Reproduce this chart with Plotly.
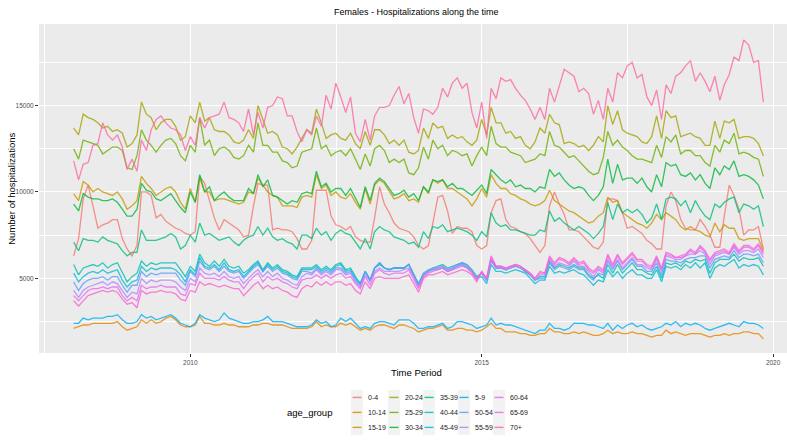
import pandas as pd
import plotly.graph_objects as go

# Monthly periods, Jan 2008 - Nov 2019
months = pd.date_range("2008-01-01", periods=143, freq="MS")

age_groups = ["0-4", "10-14", "15-19", "20-24", "25-29", "30-34", "35-39", "40-44",
              "45-49", "5-9", "50-54", "55-59", "60-64", "65-69", "70+"]

# ggplot2 default hue palette for 15 levels
colors = ["#F8766D", "#E58700", "#C99800", "#A3A500", "#6BB100", "#00BA38", "#00BF7D",
          "#00C0AF", "#00BCD8", "#00B0F6", "#619CFF", "#B983FF", "#E76BF3", "#FD61D1", "#FF67A4"]

# Female hospitalizations per month, in hundreds
h_0_4 = [63, 73, 96, 104, 92, 79, 81, 82, 84, 84, 73, 67, 63, 69, 100, 100, 98, 85, 87, 83, 81, 79, 78, 76, 75,
         77, 109, 105, 95, 85, 78, 84, 82, 80, 78, 74, 75, 92, 105, 104, 104, 78, 79, 78, 78, 77, 73, 67,
         67, 72, 101, 101, 101, 86, 81, 80, 78, 80, 74, 72, 71, 71, 85, 103, 93, 88, 82, 79, 78, 77, 74, 69,
         67, 69, 82, 97, 98, 89, 76, 80, 79, 79, 77, 69, 67, 69, 88, 95, 96, 84, 80, 79, 77, 76, 73, 69,
         65, 69, 92, 100, 93, 87, 78, 78, 77, 74, 71, 68, 67, 71, 96, 96, 95, 88, 79, 80, 78, 76, 72,
         70, 67, 67, 92, 100, 95, 84, 79, 78, 78, 84, 80, 75, 68, 68, 86, 104, 98, 90, 75, 78, 78, 80, 67]
h_10_14 = [21, 22, 23, 23, 24, 24, 24, 24, 24, 25, 22, 20, 21, 22, 26, 24, 26, 24, 25, 27, 28, 26, 23, 22, 22,
           23, 28, 24, 24, 23, 23, 24, 23, 23, 22, 22, 22, 23, 23, 24, 24, 23, 23, 23, 22, 21, 21, 21,
           21, 22, 25, 22, 23, 22, 22, 24, 23, 24, 22, 20, 21, 20, 22, 23, 23, 22, 21, 23, 23, 22, 21, 19,
           20, 21, 21, 22, 23, 20, 20, 21, 21, 20, 20, 19, 20, 22, 24, 21, 21, 19, 19, 19, 18, 18, 17, 17,
           18, 18, 21, 19, 19, 18, 18, 19, 18, 19, 18, 17, 17, 18, 20, 18, 19, 18, 18, 19, 18, 18, 17,
           16, 17, 17, 20, 18, 19, 18, 17, 18, 18, 18, 17, 16, 17, 17, 18, 17, 18, 18, 19, 19, 18, 18, 15]
h_15_19 = [99, 95, 106, 104, 100, 102, 100, 99, 98, 100, 96, 90, 92, 95, 109, 105, 102, 98, 100, 102, 103, 100, 94, 90, 102,
           94, 108, 100, 100, 95, 96, 96, 95, 94, 93, 94, 100, 99, 108, 104, 100, 98, 97, 92, 92, 92, 91, 97,
           98, 97, 110, 102, 104, 98, 100, 97, 96, 99, 94, 90, 102, 93, 104, 107, 105, 100, 96, 97, 99, 95, 96, 94,
           103, 99, 107, 105, 107, 102, 102, 100, 98, 96, 92, 96, 102, 97, 110, 105, 102, 102, 99, 98, 96, 95, 93, 92,
           93, 95, 101, 95, 93, 91, 89, 88, 86, 84, 82, 83, 86, 88, 97, 94, 95, 88, 86, 84, 82, 81, 79,
           82, 87, 84, 88, 86, 84, 80, 78, 80, 78, 77, 75, 74, 82, 77, 81, 79, 79, 73, 72, 73, 73, 73, 66]
h_20_24 = [137, 133, 145, 143, 142, 140, 137, 138, 135, 136, 134, 126, 128, 133, 152, 145, 143, 136, 140, 142, 142, 138, 130, 132, 144,
           140, 152, 141, 143, 136, 135, 135, 133, 129, 128, 130, 136, 131, 150, 142, 134, 135, 133, 126, 125, 122, 126, 131,
           136, 134, 148, 140, 131, 133, 134, 131, 130, 134, 128, 125, 135, 127, 136, 136, 133, 128, 130, 127, 130, 123, 122, 124,
           137, 131, 140, 137, 138, 131, 133, 131, 132, 129, 127, 130, 142, 133, 149, 140, 140, 134, 135, 131, 132, 127, 125, 129,
           137, 134, 145, 140, 139, 128, 129, 128, 126, 127, 124, 127, 132, 129, 150, 139, 147, 136, 134, 133, 132, 129, 128,
           132, 144, 131, 147, 143, 144, 132, 133, 134, 132, 131, 127, 127, 141, 131, 141, 140, 142, 131, 132, 132, 131, 128, 121]
h_25_29 = [125, 119, 130, 129, 128, 127, 122, 124, 126, 126, 124, 114, 113, 121, 136, 130, 127, 123, 127, 130, 131, 128, 121, 118, 127,
           123, 143, 127, 130, 121, 125, 126, 124, 120, 119, 121, 127, 123, 140, 127, 127, 123, 123, 118, 117, 114, 115, 123,
           124, 125, 137, 125, 127, 121, 123, 124, 121, 125, 119, 113, 122, 115, 125, 127, 124, 117, 119, 117, 119, 111, 110, 114,
           126, 119, 130, 125, 127, 121, 124, 123, 121, 122, 115, 121, 126, 121, 138, 128, 126, 126, 123, 122, 121, 117, 118, 119,
           122, 121, 135, 127, 126, 123, 120, 121, 118, 115, 112, 110, 111, 120, 135, 127, 130, 126, 124, 121, 119, 119, 118,
           117, 127, 120, 132, 129, 133, 122, 124, 124, 121, 121, 117, 115, 127, 123, 130, 128, 134, 122, 123, 122, 120, 119, 109]
h_30_34 = [93, 89, 99, 97, 96, 96, 95, 95, 96, 94, 90, 86, 86, 90, 105, 101, 100, 96, 95, 97, 99, 95, 91, 88, 100,
           94, 110, 100, 103, 95, 98, 100, 97, 95, 95, 95, 102, 99, 110, 103, 107, 98, 97, 95, 93, 95, 94, 99,
           100, 99, 112, 103, 105, 100, 102, 102, 98, 102, 96, 91, 103, 95, 105, 108, 106, 102, 98, 99, 101, 97, 99, 95,
           103, 100, 107, 106, 107, 103, 105, 102, 102, 100, 98, 101, 104, 99, 113, 110, 107, 105, 107, 103, 104, 102, 102, 100,
           103, 102, 113, 109, 111, 107, 104, 102, 103, 102, 98, 95, 98, 103, 119, 105, 116, 107, 108, 108, 105, 108, 103,
           100, 110, 103, 117, 115, 116, 110, 109, 111, 107, 110, 105, 102, 114, 110, 115, 113, 118, 109, 110, 109, 107, 104, 96]
h_35_39 = [71, 66, 73, 72, 72, 71, 74, 72, 71, 70, 66, 63, 65, 65, 78, 72, 72, 72, 73, 74, 76, 74, 67, 69, 75,
           71, 82, 75, 76, 74, 72, 73, 74, 71, 69, 72, 74, 75, 80, 75, 79, 74, 72, 73, 71, 70, 67, 75,
           75, 73, 79, 75, 77, 72, 76, 78, 76, 75, 71, 67, 73, 67, 77, 80, 78, 77, 74, 73, 72, 70, 71, 68,
           77, 73, 80, 79, 81, 77, 78, 79, 78, 77, 75, 72, 77, 74, 88, 82, 80, 81, 78, 78, 77, 76, 75, 75,
           78, 77, 89, 83, 85, 82, 80, 78, 80, 78, 76, 73, 76, 80, 94, 84, 93, 88, 90, 88, 90, 87, 82,
           85, 93, 84, 96, 97, 96, 92, 95, 88, 95, 90, 86, 84, 93, 91, 94, 96, 97, 88, 93, 92, 90, 92, 80]
h_40_44 = [58, 52, 56, 57, 58, 57, 59, 56, 58, 59, 53, 48,
           51, 53, 60, 57, 59, 58, 59, 59, 59, 59, 55, 51,
           57, 54, 64, 59, 57, 60, 57, 61, 57, 56, 57, 53,
           55, 58, 60, 55, 59, 56, 58, 55, 54, 52, 51, 56,
           56, 56, 58, 55, 57, 55, 58, 59, 55, 56, 51, 47,
           54, 49, 56, 59, 56, 55, 56, 56, 56, 58, 52, 47,
           53, 55, 56, 57, 58, 56, 57, 58, 59, 58, 55, 51,
           53, 49, 61, 56, 56, 55, 56, 57, 56, 54, 52, 49,
           51, 51, 60, 56, 58, 57, 56, 58, 56, 56, 52, 50,
           52, 50, 58, 53, 58, 53, 56, 59, 55, 55, 53, 52,
           57, 50, 59, 58, 59, 57, 60, 59, 61, 60, 61, 53,
           59, 61, 61, 61, 64, 60, 62, 61, 61, 62, 57]
h_45_49 = [53, 48, 51, 53, 54, 53, 55, 53, 54, 55, 49, 45,
           48, 49, 57, 54, 56, 55, 56, 56, 56, 55, 52, 48,
           55, 52, 62, 57, 56, 58, 55, 59, 55, 54, 55, 51,
           54, 57, 59, 54, 58, 55, 57, 54, 53, 51, 50, 55,
           55, 55, 57, 54, 56, 54, 57, 58, 54, 55, 50, 47,
           54, 49, 56, 58, 56, 55, 56, 56, 56, 58, 52, 46,
           52, 54, 55, 55, 56, 54, 55, 57, 58, 56, 54, 50,
           51, 47, 58, 54, 54, 53, 54, 55, 54, 53, 50, 47,
           49, 49, 57, 53, 54, 53, 54, 55, 53, 52, 49, 46,
           49, 48, 55, 51, 54, 50, 53, 55, 52, 52, 50, 50,
           55, 48, 57, 56, 57, 55, 58, 56, 59, 56, 59, 50,
           56, 58, 57, 59, 61, 56, 58, 57, 58, 57, 52]
h_5_9 = [24, 24, 27, 26, 27, 27, 27, 28, 28, 29, 26, 24, 24, 25, 29, 27, 28, 26, 27, 28, 29, 27, 24, 23, 22,
         24, 29, 27, 26, 25, 26, 30, 27, 26, 25, 24, 24, 25, 25, 26, 28, 25, 25, 25, 24, 23, 22, 22,
         22, 23, 26, 24, 25, 22, 23, 27, 25, 27, 24, 21, 22, 21, 24, 25, 25, 24, 23, 26, 26, 26, 24, 21,
         21, 22, 22, 23, 24, 21, 22, 25, 25, 24, 23, 21, 22, 23, 27, 23, 24, 23, 23, 22, 21, 20, 19, 18,
         20, 20, 24, 21, 21, 20, 21, 24, 24, 24, 23, 23, 22, 21, 24, 20, 23, 21, 23, 24, 22, 23, 21,
         20, 21, 22, 24, 23, 25, 22, 24, 23, 24, 23, 21, 20, 21, 22, 23, 24, 23, 22, 25, 24, 24, 23, 21]
h_50_54 = [48, 43, 47, 49, 50, 50, 51, 49, 51, 51, 46, 42,
           46, 46, 54, 51, 53, 52, 53, 53, 53, 53, 49, 46,
           54, 51, 60, 56, 55, 57, 54, 57, 54, 53, 54, 50,
           53, 56, 58, 54, 57, 54, 56, 53, 52, 50, 49, 54,
           54, 53, 56, 53, 55, 53, 56, 56, 53, 54, 49, 46,
           54, 49, 56, 59, 56, 55, 56, 56, 56, 58, 52, 46,
           52, 54, 56, 56, 57, 55, 56, 58, 59, 57, 54, 50,
           53, 49, 60, 56, 56, 55, 56, 57, 56, 54, 52, 49,
           50, 50, 59, 55, 57, 56, 55, 57, 55, 55, 51, 49,
           53, 52, 60, 55, 60, 55, 58, 61, 57, 57, 54, 54,
           59, 52, 61, 60, 60, 59, 61, 62, 62, 63, 63, 56,
           61, 62, 63, 62, 66, 62, 64, 64, 63, 64, 59]
h_55_59 = [43, 39, 43, 45, 46, 47, 48, 46, 48, 47, 43, 39,
           42, 41, 50, 47, 49, 48, 49, 49, 49, 48, 45, 43,
           50, 48, 56, 53, 52, 53, 51, 54, 51, 50, 51, 47,
           50, 53, 55, 51, 54, 51, 53, 50, 49, 47, 46, 51,
           53, 52, 55, 52, 54, 52, 55, 55, 52, 53, 48, 45,
           52, 48, 54, 56, 54, 54, 54, 54, 55, 56, 51, 45,
           52, 54, 55, 56, 57, 55, 56, 57, 58, 57, 54, 50,
           53, 49, 61, 56, 56, 55, 56, 57, 56, 55, 52, 49,
           52, 52, 61, 57, 59, 58, 57, 60, 57, 57, 54, 51,
           55, 53, 61, 56, 61, 56, 59, 62, 58, 58, 56, 55,
           61, 54, 63, 62, 61, 61, 63, 64, 64, 66, 64, 58,
           63, 64, 65, 64, 68, 64, 66, 66, 65, 67, 62]
h_60_64 = [40, 37, 40, 43, 44, 44, 45, 44, 45, 45, 40, 37,
           39, 37, 46, 44, 45, 45, 46, 45, 45, 45, 41, 40,
           47, 46, 53, 50, 50, 50, 49, 51, 49, 48, 48, 44,
           48, 51, 53, 48, 51, 49, 50, 48, 47, 45, 44, 49,
           50, 50, 52, 50, 52, 50, 52, 53, 50, 51, 47, 44,
           51, 46, 53, 55, 53, 52, 53, 53, 53, 55, 49, 44,
           51, 53, 54, 55, 56, 54, 55, 56, 57, 56, 53, 49,
           54, 50, 62, 57, 57, 56, 57, 58, 57, 55, 53, 50,
           53, 53, 62, 58, 61, 60, 58, 61, 58, 59, 55, 53,
           56, 54, 63, 57, 63, 58, 61, 64, 60, 60, 57, 56,
           62, 55, 64, 63, 62, 62, 63, 66, 64, 68, 65, 60,
           64, 65, 66, 64, 69, 65, 68, 68, 66, 69, 64]
h_65_69 = [37, 34, 37, 40, 41, 42, 43, 42, 43, 42, 38, 35,
           36, 33, 43, 41, 42, 42, 43, 42, 42, 41, 38, 37,
           43, 42, 48, 46, 47, 46, 45, 46, 45, 44, 44, 40,
           43, 46, 48, 44, 46, 44, 45, 43, 42, 40, 39, 44,
           46, 45, 48, 46, 48, 46, 48, 48, 46, 47, 43, 41,
           48, 44, 50, 51, 50, 50, 50, 50, 51, 52, 47, 42,
           50, 52, 52, 53, 54, 52, 53, 54, 55, 54, 52, 48,
           54, 50, 63, 57, 57, 56, 57, 58, 57, 55, 53, 50,
           54, 53, 63, 59, 62, 61, 59, 62, 59, 60, 56, 54,
           57, 55, 64, 58, 64, 59, 62, 65, 61, 61, 58, 57,
           63, 56, 65, 64, 62, 63, 64, 67, 65, 69, 66, 61,
           65, 66, 67, 65, 70, 66, 69, 69, 67, 70, 65]
h_70_plus = [118, 107, 116, 117, 127, 128, 140, 133, 130, 133, 126, 113, 119, 112, 130, 124, 136, 142, 144, 140, 137, 136, 133, 124, 132,
             127, 143, 137, 143, 144, 145, 152, 143, 142, 140, 135, 148, 133, 146, 137, 149, 150, 155, 154, 144, 144, 135, 129,
             136, 133, 144, 138, 156, 148, 163, 155, 146, 155, 134, 129, 142, 130, 144, 149, 149, 150, 156, 161, 151, 157, 143, 134,
             148, 147, 145, 149, 160, 155, 163, 166, 160, 163, 146, 137, 152, 131, 160, 154, 166, 164, 165, 160, 156, 153, 148, 142,
             149, 142, 160, 152, 162, 171, 169, 167, 158, 160, 157, 145, 153, 142, 160, 152, 169, 166, 173, 175, 166, 168, 155,
             150, 159, 142, 162, 157, 167, 169, 173, 176, 164, 169, 164, 158, 167, 153, 162, 168, 178, 176, 188, 185, 175, 176, 152]

series = [h_0_4, h_10_14, h_15_19, h_20_24, h_25_29, h_30_34, h_35_39, h_40_44,
          h_45_49, h_5_9, h_50_54, h_55_59, h_60_64, h_65_69, h_70_plus]

y_ticks = [5000, 10000, 15000]
y_minor = [2500, 7500, 12500, 17500]
x_ticks = ["2010-01-01", "2015-01-01", "2020-01-01"]
x_tick_text = ["2010", "2015", "2020"]
x_minor = ["2007-07-02", "2012-07-02", "2017-07-02"]

W, H = 787, 443
PL, PR, PT, PB = 39, 787, 24, 353.5      # panel box in pixels

FONT = "Liberation Sans Narrow, Arial Narrow, Liberation Sans, Arial, sans-serif"

fig = go.Figure()
for name, vals, col in zip(age_groups, series, colors):
    fig.add_trace(go.Scatter(
        x=months, y=[v * 100 for v in vals], mode="lines", name=name,
        line=dict(color=col, width=1.3), opacity=0.8, showlegend=False,
        hoverinfo="skip"))


def px_x(px):
    return (px - PL) / (PR - PL)


def px_y(py):
    return (PB - py) / (PB - PT)


shapes = []
annotations = []

# legend: 5 columns x 3 rows, filled column-wise like ggplot
key_cx = [357, 394, 429, 464, 499]
label_x = [366, 403, 438, 473, 508]
row_y = [398, 413, 428]
for i, (name, col) in enumerate(zip(age_groups, colors)):
    c, r = divmod(i, 3)
    cx, cy = key_cx[c], row_y[r]
    shapes.append(dict(type="rect", xref="paper", yref="paper",
                       x0=px_x(cx - 6), x1=px_x(cx + 6), y0=px_y(cy + 7.5), y1=px_y(cy - 7.5),
                       fillcolor="#F2F2F2", line=dict(width=0), layer="above"))
    shapes.append(dict(type="line", xref="paper", yref="paper",
                       x0=px_x(cx - 4.5), x1=px_x(cx + 4.5), y0=px_y(cy), y1=px_y(cy),
                       line=dict(color=col, width=1.4), opacity=0.85, layer="above"))
    annotations.append(dict(text=name, xref="paper", yref="paper", x=px_x(label_x[c]), y=px_y(cy),
                            xanchor="left", yanchor="middle", showarrow=False,
                            font=dict(family=FONT, size=7, color="#1A1A1A")))

annotations.append(dict(text="age_group", xref="paper", yref="paper", x=px_x(334), y=px_y(413),
                        xanchor="right", yanchor="middle", showarrow=False,
                        font=dict(family=FONT, size=9.5, color="#000000")))

# titles
annotations.append(dict(text="Females - Hospitalizations along the time", xref="paper", yref="paper",
                        x=px_x(416), y=px_y(12), xanchor="center", yanchor="middle", showarrow=False,
                        font=dict(family=FONT, size=9, color="#000000")))
annotations.append(dict(text="Time Period", xref="paper", yref="paper",
                        x=px_x(416), y=px_y(373), xanchor="center", yanchor="middle", showarrow=False,
                        font=dict(family=FONT, size=9.5, color="#000000")))
annotations.append(dict(text="Number of hospitalizations", xref="paper", yref="paper",
                        x=px_x(12), y=px_y(189), xanchor="center", yanchor="middle", showarrow=False,
                        textangle=-90, font=dict(family="Liberation Sans, Arial, sans-serif", size=9.5,
                                                 color="#000000")))

fig.update_layout(
    width=W, height=H,
    margin=dict(l=PL, r=W - PR, t=PT, b=H - PB, pad=0),
    paper_bgcolor="white", plot_bgcolor="#EBEBEB",
    showlegend=False,
    shapes=shapes, annotations=annotations,
    xaxis=dict(type="date", range=["2007-05-29", "2020-03-28"],
               tickmode="array", tickvals=x_ticks, ticktext=x_tick_text,
               showgrid=True, gridcolor="white", gridwidth=1.1,
               minor=dict(tickmode="array", tickvals=x_minor, showgrid=True,
                          gridcolor="white", gridwidth=0.55, ticks=""),
               ticks="outside", ticklen=3, tickwidth=0.8, tickcolor="#333333",
               tickfont=dict(family=FONT, size=6.5, color="#4D4D4D"),
               zeroline=False, showline=False, fixedrange=True),
    yaxis=dict(range=[680, 19720],
               tickmode="array", tickvals=y_ticks, ticktext=[str(v) for v in y_ticks],
               showgrid=True, gridcolor="white", gridwidth=1.1,
               minor=dict(tickmode="array", tickvals=y_minor, showgrid=True,
                          gridcolor="white", gridwidth=0.55, ticks=""),
               ticks="outside", ticklen=3, tickwidth=0.8, tickcolor="#333333",
               tickfont=dict(family=FONT, size=6.5, color="#4D4D4D"),
               zeroline=False, showline=False, fixedrange=True),
)

fig.write_html("out.html")
